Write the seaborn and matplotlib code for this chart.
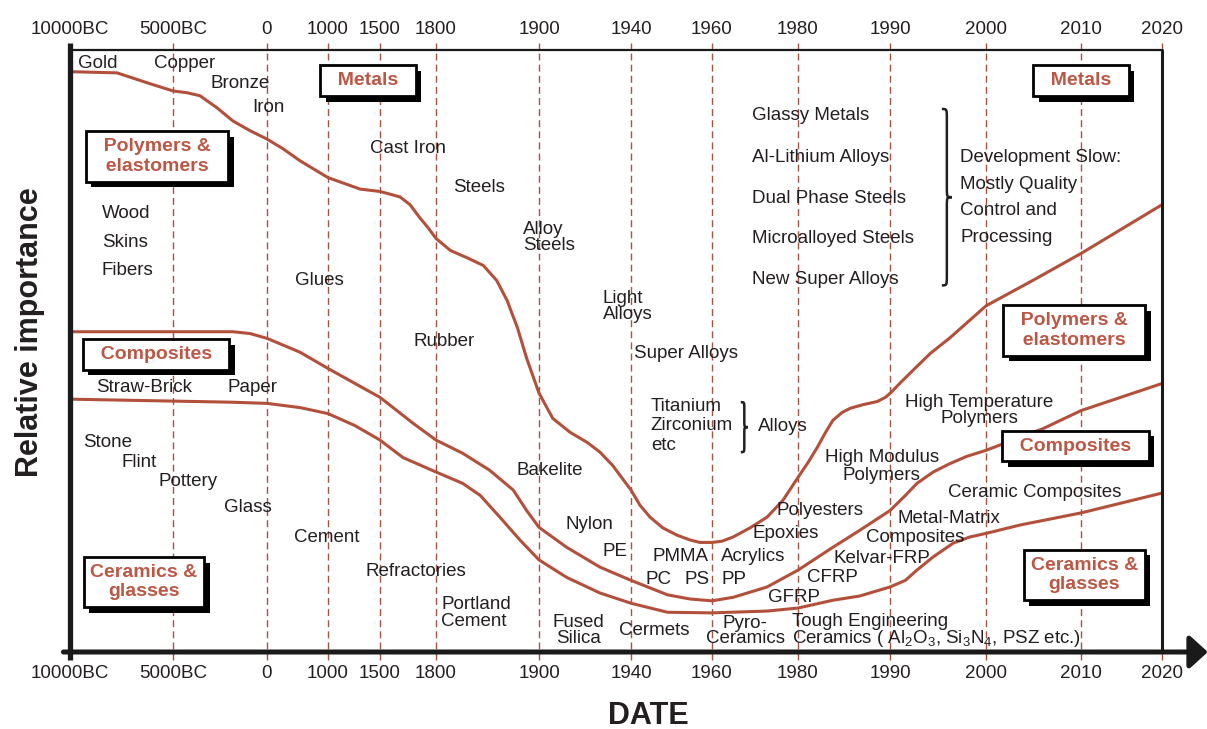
import numpy as np
import pandas as pd
import matplotlib.pyplot as plt
import matplotlib.patheffects as pe
from matplotlib.path import Path
from matplotlib.patches import PathPatch
from matplotlib.transforms import IdentityTransform
import seaborn as sns

# Non-linear time axis: tick years and their spacing along the axis
tick_years = [-10000, -5000, 0, 1000, 1500, 1800, 1900, 1940, 1960, 1980, 1990, 2000, 2010, 2020]
tick_labels = ['10000BC', '5000BC', '0', '1000', '1500', '1800', '1900', '1940',
               '1960', '1980', '1990', '2000', '2010', '2020']
tick_spacing = [0, 103, 197, 258, 310, 366, 469, 561, 642, 728, 820, 916, 1011, 1092]

# Boundary between metals and polymers
metals_year = [-10000, -7719, -6117, -5000, -4255, -3564, -2660, -1809, -904, 0, 262, 541,
               1000, 1308, 1500, 1607, 1661, 1714, 1757, 1800, 1814, 1830, 1846, 1859,
               1869, 1879, 1888, 1900, 1906, 1913.5, 1921, 1926.5, 1932, 1940, 1942.2,
               1944.7, 1947.9, 1951.4, 1954.6, 1957, 1960, 1962.3, 1964.9, 1968.8, 1972.8,
               1976.5, 1980, 1981.1, 1982.1, 1983, 1983.8, 1984.8, 1985.7, 1987.1, 1988.6,
               1989.5, 1990.1, 1991.0, 1992.4, 1994.2, 1996.25, 2000, 2004.9, 2010, 2020]
metals_val = [96.4, 96.2, 94.4, 93.2, 92.9, 92.4, 90.4, 88.2, 86.6, 85.2, 83.6, 81.6,
              78.8, 76.9, 76.5, 75.6, 74.3, 72.1, 70.5, 68.7, 66.7, 65.5, 64.2, 61.7,
              58.4, 53.9, 48.8, 43.0, 38.8, 36.5, 34.8, 33.2, 31.0, 26.9, 24.4,
              22.4, 20.6, 19.4, 18.6, 18.2, 18.2, 18.4, 19.1, 20.6, 22.4,
              25.2, 29.0, 31.5, 34.0, 36.5, 38.5, 39.8, 40.5, 41.1, 41.6,
              42.3, 43.1, 44.6, 46.8, 49.6, 52.2, 57.5, 61.7, 66.2, 74.3]

# Boundary between polymers and composites
composites_year = [-10000, -1809, -904, 0, 541, 1000, 1260, 1500, 1677, 1800, 1826, 1852,
                   1875, 1888, 1900, 1912, 1926.5, 1940, 1949, 1954.6, 1960, 1965, 1972.8,
                   1980, 1983.8, 1986.7, 1990, 1991.6, 1992.8, 1994.5, 1996.25, 1998, 2000,
                   2006, 2010, 2020]
composites_val = [53.2, 53.2, 52.9, 52.1, 49.8, 47.1, 44.6, 42.3, 38.0, 35.2, 33.0, 30.2,
                  26.9, 23.5, 20.7, 17.4, 14.1, 11.9, 9.5, 8.8, 8.5, 9.1, 10.8,
                  13.6, 17.4, 20.2, 23.5, 26.0, 28.0, 29.9, 31.3, 32.5, 33.5,
                  37.1, 40.1, 44.6]

# Boundary between composites and ceramics
ceramics_year = [-10000, -1968, 0, 541, 1000, 1260, 1500, 1623, 1800, 1826, 1843, 1862,
                 1881.5, 1900, 1912, 1926.5, 1940, 1949, 1960, 1972.8, 1980, 1983.8,
                 1986.7, 1990, 1991.6, 1992.8, 1994.5, 1996.6, 1998.3, 2000, 2003.6,
                 2010, 2020]
ceramics_val = [42.0, 41.5, 41.3, 40.6, 39.6, 37.6, 35.2, 32.3, 29.9, 28.0, 26.0, 22.4,
                18.6, 15.3, 12.4, 9.8, 8.1, 6.6, 6.5, 6.8, 7.3, 8.6,
                9.3, 10.8, 11.9, 13.6, 15.8, 18.1, 19.1, 19.7, 21.1,
                23.1, 26.4]

# Boxed class names: (text, year, importance, extra side padding)
class_boxes = [
    ('Metals', 1385, 94.9, '  '),
    ('Polymers &\nelastomers', -5777, 82.3, '  '),
    ('Composites', -5826, 49.4, '  '),
    ('Ceramics &\nglasses', -6408, 11.6, ''),
    ('Metals', 2010, 94.9, '  '),
    ('Polymers &\nelastomers', 2009.3, 53.4, '  '),
    ('Composites', 2009.4, 34.2, '  '),
    ('Ceramics &\nglasses', 2010.4, 12.8, ''),
]

# Material names: (text, year, importance, alignment, line spacing)
materials = [
    ('Gold', -9600, 97.8, 'left', 1.0),
    ('Copper', -5900, 97.8, 'left', 1.0),
    ('Bronze', -3000, 94.5, 'left', 1.0),
    ('Iron', -800, 90.5, 'left', 1.0),
    ('Cast Iron', 1400, 83.6, 'left', 1.0),
    ('Steels', 1816.5, 77.1, 'left', 1.0),
    ('Alloy\nSteels', 1884.5, 68.8, 'left', 0.95),
    ('Light\nAlloys', 1927.8, 57.4, 'left', 0.95),
    ('Super Alloys', 1940.7, 49.6, 'left', 1.0),
    ('Titanium\nZirconium\netc', 1944.9, 37.6, 'left', 1.2),
    ('Alloys', 1970.7, 37.5, 'left', 1.0),
    ('Glassy Metals', 1969.3, 89.1, 'left', 1.0),
    ('Al-Lithium Alloys', 1969.3, 82.1, 'left', 1.0),
    ('Dual Phase Steels', 1969.3, 75.3, 'left', 1.0),
    ('Microalloyed Steels', 1969.3, 68.7, 'left', 1.0),
    ('New Super Alloys', 1969.3, 61.9, 'left', 1.0),
    ('Development Slow:\nMostly Quality\nControl and\nProcessing', 1997.3, 75.5, 'left', 1.75),
    ('Wood', -8447, 72.8, 'left', 1.0),
    ('Skins', -8447, 68.0, 'left', 1.0),
    ('Fibers', -8447, 63.3, 'left', 1.0),
    ('Glues', 459, 61.7, 'left', 1.0),
    ('Rubber', 1682, 51.6, 'left', 1.0),
    ('Straw-Brick', -8738, 43.9, 'left', 1.0),
    ('Paper', -2075, 43.9, 'left', 1.0),
    ('Stone', -9369, 34.8, 'left', 1.0),
    ('Flint', -7476, 31.5, 'left', 1.0),
    ('Pottery', -5728, 28.4, 'left', 1.0),
    ('Glass', -2287, 24.0, 'left', 1.0),
    ('Cement', 443, 19.1, 'left', 1.0),
    ('Refractories', 1356, 13.4, 'left', 1.0),
    ('Portland\nCement', 1805, 6.5, 'left', 0.95),
    ('Bakelite', 1877.7, 30.2, 'left', 1.0),
    ('Nylon', 1911.7, 21.2, 'left', 1.0),
    ('PE', 1927.4, 16.7, 'left', 1.0),
    ('PMMA', 1945.2, 15.8, 'left', 1.0),
    ('PC', 1943.7, 12.1, 'left', 1.0),
    ('PS', 1953.1, 12.1, 'left', 1.0),
    ('Acrylics', 1962.1, 15.8, 'left', 1.0),
    ('PP', 1962.1, 12.1, 'left', 1.0),
    ('Fused\nSilica', 1917, 3.6, 'center', 0.95),
    ('Cermets', 1934.8, 3.5, 'left', 1.0),
    ('Pyro-\nCeramics', 1967.7, 3.5, 'center', 0.9),
    ('Tough Engineering\nCeramics ( Al$_2$O$_3$, Si$_3$N$_4$, PSZ etc.)', 1978.6, 3.5, 'left', 0.9),
    ('Polyesters', 1975.1, 23.5, 'left', 1.0),
    ('Epoxies', 1969.5, 19.7, 'left', 1.0),
    ('GFRP', 1973, 9.1, 'left', 1.0),
    ('CFRP', 1981, 12.3, 'left', 1.0),
    ('Kelvar-FRP', 1983.9, 15.6, 'left', 1.0),
    ('Metal-Matrix', 1990.8, 22.1, 'left', 1.0),
    ('Composites', 1987.4, 19.1, 'left', 1.0),
    ('High Modulus\nPolymers', 1989.1, 30.8, 'center', 1.05),
    ('High Temperature\nPolymers', 1999.3, 40.1, 'center', 0.95),
    ('Ceramic Composites', 1996, 26.5, 'left', 1.0),
]

# Braces: (year, top, bottom, width in px)
braces = [(1995.4, 90.2, 60.9, 10), (1966.7, 41.5, 33.2, 7)]

CURVE = '#b3503b'
LABEL = '#bb5845'
DASH = '#a05545'
INK = '#231f20'

sns.set_theme(style='white')
plt.rcParams['font.family'] = ['Liberation Sans', 'DejaVu Sans']
plt.rcParams['mathtext.default'] = 'regular'

fig = plt.figure(figsize=(12.07, 7.29), dpi=100)
ax = fig.add_axes([70 / 1207, 77 / 729, 1092 / 1207, 602 / 729])

curves = pd.concat([
    pd.DataFrame({'year': metals_year, 'importance': metals_val, 'boundary': 'metals'}),
    pd.DataFrame({'year': composites_year, 'importance': composites_val, 'boundary': 'composites'}),
    pd.DataFrame({'year': ceramics_year, 'importance': ceramics_val, 'boundary': 'ceramics'}),
], ignore_index=True)

sns.lineplot(data=curves, x='year', y='importance', units='boundary', estimator=None,
             sort=False, color=CURVE, lw=2.2, ax=ax, zorder=3,
             solid_joinstyle='round', solid_capstyle='round')


def to_axis(y):
    return np.interp(y, tick_years, tick_spacing)


def from_axis(p):
    return np.interp(p, tick_spacing, tick_years)


ax.set_xscale('function', functions=(to_axis, from_axis))
ax.set_xlim(-10000, 2020)
ax.set_ylim(0, 100)
ax.set_xticks(tick_years, tick_labels)
ax.set_yticks([])
ax.set_xlabel('')
ax.set_ylabel('')
ax.grid(False)
ax.tick_params(axis='x', top=True, labeltop=True, bottom=True, labelbottom=True,
               length=0, pad=9, labelsize=13.5, labelcolor=INK)
for s in ax.spines.values():
    s.set_visible(False)

# dashed date lines
for yr in tick_years[1:]:
    ax.axvline(yr, ymin=-0.013, ymax=1.012, color=DASH, lw=1, ls=(0, (5, 3)),
               clip_on=False, zorder=1)

# frame
ax.plot([0, 0], [-0.013, 1.012], transform=ax.transAxes, color='k', lw=3.8,
        clip_on=False, solid_capstyle='butt', zorder=6)
ax.plot([0, 1], [1, 1], transform=ax.transAxes, color='k', lw=1.6, clip_on=False, zorder=6)
ax.plot([1, 1], [0, 1], transform=ax.transAxes, color='k', lw=2.2, clip_on=False, zorder=6)
ax.annotate('', xy=(1.042, 0), xytext=(-0.006, 0), xycoords='axes fraction',
            arrowprops=dict(arrowstyle='-|>,head_length=0.55,head_width=0.5', lw=3.6,
                            color='k', shrinkA=0, shrinkB=0, mutation_scale=20), zorder=6)

# material names
for text, yr, v, ha, ls in materials:
    ax.text(yr, v, text, ha=ha, va='center', fontsize=13.5, color=INK,
            linespacing=ls, multialignment=ha, zorder=4)

# boxed class names with drop shadow
for text, yr, v, pad in class_boxes:
    lines = '\n'.join(pad + line + pad for line in text.split('\n'))
    t = ax.text(yr, v, lines, ha='center', va='center', fontsize=14, fontweight='bold',
                color=LABEL, linespacing=1.2, zorder=7,
                bbox=dict(boxstyle='square,pad=0.35', fc='white', ec='black', lw=2))
    t.get_bbox_patch().set_path_effects([
        pe.SimplePatchShadow(offset=(4, -4), shadow_rgbFace='black', alpha=1.0),
        pe.Normal()])


def draw_brace(ax, year, v_top, v_bot, width):
    x, yt = ax.transData.transform((year, v_top))
    _, yb = ax.transData.transform((year, v_bot))
    ym = (yt + yb) / 2
    h = width / 2
    q = min(width, (yt - yb) / 8)
    verts = [(x, yt), (x + h, yt), (x + h, yt), (x + h, yt - q),
             (x + h, ym + q),
             (x + h, ym), (x + h, ym), (x + width, ym),
             (x + h, ym), (x + h, ym), (x + h, ym - q),
             (x + h, yb + q),
             (x + h, yb), (x + h, yb), (x, yb)]
    codes = ([Path.MOVETO] + [Path.CURVE4] * 3 + [Path.LINETO] + [Path.CURVE4] * 6 +
             [Path.LINETO] + [Path.CURVE4] * 3)
    ax.add_patch(PathPatch(Path(verts, codes), fill=False, ec=INK, lw=1.8,
                           transform=IdentityTransform(), clip_on=False, zorder=4))


for yr, top, bot, w in braces:
    draw_brace(ax, yr, top, bot, w)

fig.text(648 / 1207, 1 - 724 / 729, 'DATE', ha='center', va='baseline',
         fontsize=22, fontweight='bold', color=INK)
fig.text(30 / 1207, 1 - 332 / 729, 'Relative importance', ha='center', va='center',
         rotation=90, fontsize=22, fontweight='bold', color=INK)

fig.savefig('out.png', dpi=100)
plt.close(fig)
